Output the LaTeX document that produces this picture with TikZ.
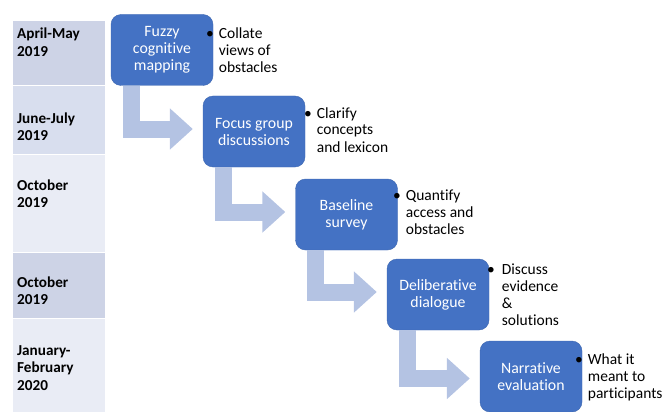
\documentclass[tikz,border=0pt]{standalone}
\usepackage{fontspec}
\setmainfont{Carlito}[RawFeature={-liga;-clig;-dlig}]
\usetikzlibrary{arrows.meta,calc}

\definecolor{stageblue}{HTML}{4472C4}
\definecolor{flowgrey}{HTML}{B4C3E3}
\definecolor{rowdark}{HTML}{CDD3E6}
\definecolor{rowmid}{HTML}{D8DEEE}
\definecolor{rowlight}{HTML}{E9ECF5}

\tikzset{
    stage/.style={rectangle, rounded corners=10pt, fill=stageblue, draw=stageblue!90!black,
        text=white, minimum width=102pt, minimum height=71pt, inner sep=0pt,
        align=center, font=\fontsize{15.8}{17}\selectfont},
    note/.style={anchor=base west, inner sep=0pt, font=\fontsize{15.5}{17}\selectfont},
    period/.style={anchor=base west, inner sep=0pt, font=\bfseries\fontsize{15.2}{17.5}\selectfont},
    flow/.style={draw=flowgrey, line width=17pt, line join=miter,
        -{Triangle[length=23pt, width=40pt]}},
}

\begin{document}
\begin{tikzpicture}[x=1pt, y=-1pt]
                \useasboundingbox (0,0) rectangle (667,412);
                % timeline column
                \filldraw[fill=rowdark, draw=white, line width=1pt] (12,21) rectangle (105,86);
                \filldraw[fill=rowmid, draw=white, line width=1pt] (12,86) rectangle (105,154);
                \filldraw[fill=rowlight, draw=white, line width=1pt] (12,154) rectangle (105,252);
                \filldraw[fill=rowdark, draw=white, line width=1pt] (12,252) rectangle (105,318);
                \filldraw[fill=rowlight, draw=white, line width=1pt] (12,318) rectangle (105,412);
                \node[period] (aprmay) at (17,39) {\begin{tabular}[t]{@{}l@{}}April-May\\2019\end{tabular}};
                \node[period] (junjul) at (17,123) {\begin{tabular}[t]{@{}l@{}}June-July\\2019\end{tabular}};
                \node[period] (octa) at (17,190) {\begin{tabular}[t]{@{}l@{}}October\\2019\end{tabular}};
                \node[period] (octb) at (17,287) {\begin{tabular}[t]{@{}l@{}}October\\2019\end{tabular}};
                \node[period] (janfeb) at (17,355) {\begin{tabular}[t]{@{}l@{}}January-\\February\\2020\end{tabular}};
                % stages
                \node[stage] (fuzzy) at (162,50) {Fuzzy\\cognitive\\mapping};
                \node[stage] (focus) at (254,131.5) {Focus group\\discussions};
                \node[stage] (survey) at (346.5,214.5) {Baseline\\survey};
                \node[stage] (dialogue) at (438,294.5) {Deliberative\\dialogue};
                \node[stage] (narrative) at (531,376.5) {Narrative\\evaluation};
                % bent arrows
                \draw[flow] ($(fuzzy.south west)+(20.5,0)$) |- ($(focus.west)+(-10,-2.5)$);
                \draw[flow] ($(focus.south west)+(20.5,0)$) |- ($(survey.west)+(-10,-2.5)$);
                \draw[flow] ($(survey.south west)+(20.5,0)$) |- ($(dialogue.west)+(-10,-2.5)$);
                \draw[flow] ($(dialogue.south west)+(20.5,0)$) |- ($(narrative.west)+(-10,2)$);
                % notes
                \node[note] (collate) at (206,39) {\begin{tabular}[t]{@{}l@{\hspace{5pt}}l@{}}
                    \textbullet & Collate\\ & views of\\ & obstacles\end{tabular}};
                \node[note] (clarify) at (304,118) {\begin{tabular}[t]{@{}l@{\hspace{5pt}}l@{}}
                    \textbullet & Clarify\\ & concepts\\ & and lexicon\end{tabular}};
                \node[note] (quantify) at (393,200) {\begin{tabular}[t]{@{}l@{\hspace{5pt}}l@{}}
                    \textbullet & Quantify\\ & access and\\ & obstacles\end{tabular}};
                \node[note] (discuss) at (487,274) {\begin{tabular}[t]{@{}l@{\hspace{7pt}}l@{}}
                    \textbullet & Discuss\\ & evidence\\ & \&\\ & solutions\end{tabular}};
                \node[note] (meant) at (575,364) {\begin{tabular}[t]{@{}l@{\hspace{5pt}}l@{}}
                    \textbullet & What it\\ & meant to\\ & participants\end{tabular}};
\end{tikzpicture}
\end{document}
